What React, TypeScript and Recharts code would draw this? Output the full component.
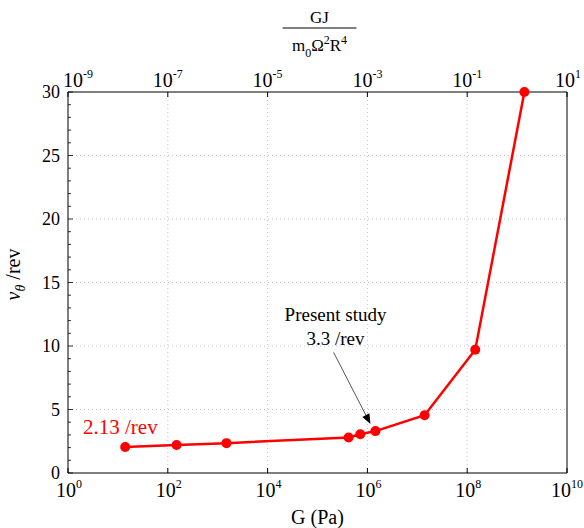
import React from "react";
import {
  LineChart,
  Line,
  XAxis,
  YAxis,
  ReferenceLine,
  ReferenceDot,
  Label,
} from "recharts";

// G (Pa) and the matching v_theta (/rev)
const shearModulus = [14, 150, 1500, 4.2e5, 7.2e5, 1.45e6, 1.4e7, 1.45e8, 1.4e9];
const vTheta = [2.05, 2.2, 2.35, 2.8, 3.05, 3.3, 4.55, 9.7, 30];

const bottomTicks = [1, 1e2, 1e4, 1e6, 1e8, 1e10];
const topTicks = [1e-9, 1e-7, 1e-5, 1e-3, 1e-1, 10];
const yMajor = [0, 5, 10, 15, 20, 25, 30];
const yTicks = Array.from({ length: 31 }, (_, i) => i);
const gridX = [1e2, 1e4, 1e6, 1e8];
const gridY = [5, 10, 15, 20, 25];

const data = shearModulus.map((g, i) => ({ g, gTop: g * 1e-9, v: vTheta[i] }));

const FONT = "Liberation Serif";

const PowerLabel = ({ x, y, value, minStart }: { x: number; y: number; value: number; minStart: number }) => {
  const e = String(Math.round(Math.log10(value)));
  const w = 20 + e.length * 6;
  // roughly centred under the tick, kept off the frame edges
  const start = Math.min(Math.max(x + 1 - w / 2, minStart), 583 - w);
  return (
    <text x={start} y={y} fontSize={20} fontFamily={FONT} fill="#000">
      10
      <tspan fontSize={12} dy={-9}>
        {e}
      </tspan>
    </text>
  );
};

const BottomTick = ({ x, y, payload }: any) => (
  <g>
    <line x1={x} x2={x} y1={y} y2={y - 5} stroke="#000" />
    <PowerLabel x={x} y={y + 24} value={payload.value} minStart={0} />
  </g>
);

const TopTick = ({ x, y, payload }: any) => (
  <g>
    <line x1={x} x2={x} y1={y} y2={y + 5} stroke="#000" />
    <PowerLabel x={x} y={y - 5} value={payload.value} minStart={63} />
  </g>
);

const LeftTick = ({ x, y, payload }: any) => {
  const major = yMajor.includes(payload.value);
  return (
    <g>
      <line x1={x} x2={x + (major ? 5 : 3)} y1={y} y2={y} stroke="#000" strokeWidth={0.8} />
      {major && (
        <text x={x - 8} y={y + 6} textAnchor="end" fontSize={18} fontFamily={FONT} fill="#000">
          {payload.value}
        </text>
      )}
    </g>
  );
};

const RightTick = ({ x, y, payload }: any) => {
  const major = yMajor.includes(payload.value);
  return <line x1={x} x2={x - (major ? 5 : 3)} y1={y} y2={y} stroke="#000" strokeWidth={0.8} />;
};

const YTitle = ({ viewBox }: any) => {
  const cx = 20;
  const cy = viewBox.y + viewBox.height / 2 - 8;
  return (
    <text
      x={cx}
      y={cy}
      transform={`rotate(-90, ${cx}, ${cy})`}
      textAnchor="middle"
      fontSize={20}
      fontFamily={FONT}
      fill="#000"
    >
      <tspan fontStyle="italic">v</tspan>
      <tspan fontStyle="italic" fontSize={14} dy={5}>θ</tspan>
      <tspan dy={-5}> /rev</tspan>
    </text>
  );
};

const TopTitle = ({ viewBox }: any) => {
  const cx = viewBox.x + viewBox.width / 2 + 2;
  return (
    <g fontFamily={FONT} fill="#000">
      <text x={cx} y={23} textAnchor="middle" fontSize={17}>
        GJ
      </text>
      <line x1={cx - 37} x2={cx + 37} y1={28} y2={28} stroke="#000" strokeWidth={1} />
      <text x={cx} y={51} textAnchor="middle" fontSize={17}>
        m
        <tspan fontSize={12} dy={6}>0</tspan>
        <tspan dy={-6}>Ω</tspan>
        <tspan fontSize={12} dy={-7}>2</tspan>
        <tspan dy={7}>R</tspan>
        <tspan fontSize={12} dy={-7}>4</tspan>
      </text>
    </g>
  );
};

const BottomTitle = ({ viewBox }: any) => (
  <text
    x={viewBox.x + viewBox.width / 2}
    y={viewBox.y + 51}
    textAnchor="middle"
    fontSize={20}
    fontFamily={FONT}
    fill="#000"
  >
    G (Pa)
  </text>
);

const Arrow = ({ x1, y1, x2, y2 }: any) => {
  const a = Math.atan2(y2 - y1, x2 - x1);
  const len = 10;
  const w = 4;
  const bx = x2 - len * Math.cos(a);
  const by = y2 - len * Math.sin(a);
  const px = -Math.sin(a) * w;
  const py = Math.cos(a) * w;
  return (
    <g>
      <line x1={x1} y1={y1} x2={bx} y2={by} stroke="#555" strokeWidth={1} />
      <polygon points={`${x2},${y2} ${bx + px},${by + py} ${bx - px},${by - py}`} fill="#000" />
    </g>
  );
};

export default function App() {
  return (
    <div style={{ position: "absolute", left: 0, top: 0, fontFamily: FONT, background: "#fff" }}>
      <LineChart width={584} height={528} data={data} margin={{ top: 0, right: 0, bottom: 0, left: 0 }}>
        <XAxis
          dataKey="g"
          type="number"
          scale="log"
          domain={[1, 1e10]}
          allowDataOverflow
          ticks={bottomTicks}
          interval={0}
          tick={<BottomTick />}
          tickLine={false}
          tickSize={0}
          tickMargin={0}
          axisLine={{ stroke: "#000" }}
          height={55}
        >
          <Label content={<BottomTitle />} />
        </XAxis>
        <XAxis
          xAxisId="top"
          orientation="top"
          dataKey="gTop"
          type="number"
          scale="log"
          domain={[1e-9, 10]}
          allowDataOverflow
          ticks={topTicks}
          interval={0}
          tick={<TopTick />}
          tickLine={false}
          tickSize={0}
          tickMargin={0}
          axisLine={{ stroke: "#000" }}
          height={92}
        >
          <Label content={<TopTitle />} />
        </XAxis>
        <YAxis
          type="number"
          domain={[0, 30]}
          ticks={yTicks}
          interval={0}
          tick={<LeftTick />}
          tickLine={false}
          tickSize={0}
          tickMargin={0}
          axisLine={{ stroke: "#000" }}
          width={68}
        >
          <Label content={<YTitle />} />
        </YAxis>
        <YAxis
          yAxisId="right"
          orientation="right"
          type="number"
          domain={[0, 30]}
          ticks={yTicks}
          interval={0}
          tick={<RightTick />}
          tickLine={false}
          tickSize={0}
          tickMargin={0}
          axisLine={{ stroke: "#000" }}
          width={17}
        />
        {gridX.map((g) => (
          <ReferenceLine key={`gx${g}`} x={g} stroke="#c4c4c4" strokeDasharray="1 3" />
        ))}
        {gridY.map((v) => (
          <ReferenceLine key={`gy${v}`} y={v} stroke="#c4c4c4" strokeDasharray="1 3" />
        ))}
        <ReferenceLine
          segment={[
            { x: 2.1e5, y: 9.5 },
            { x: 1.15e6, y: 3.86 },
          ]}
          shape={<Arrow />}
        />
        <ReferenceDot
          x={2.3e5}
          y={12}
          r={0}
          shape={(p: any) => (
            <text fontFamily={FONT} fontSize={19} fill="#000" textAnchor="middle">
              <tspan x={p.cx} y={p.cy}>Present study</tspan>
              <tspan x={p.cx} y={p.cy + 24}>3.3 /rev</tspan>
            </text>
          )}
        />
        <ReferenceDot
          x={2}
          y={3.07}
          r={0}
          shape={(p: any) => (
            <text x={p.cx} y={p.cy} fontFamily={FONT} fontSize={21} fill="#ff0000">
              2.13 /rev
            </text>
          )}
        />
        <Line
          dataKey="v"
          type="linear"
          stroke="#ff0000"
          strokeWidth={2.5}
          dot={{ r: 5, fill: "#ff0000", stroke: "none" }}
          isAnimationActive={false}
        />
      </LineChart>
    </div>
  );
}
